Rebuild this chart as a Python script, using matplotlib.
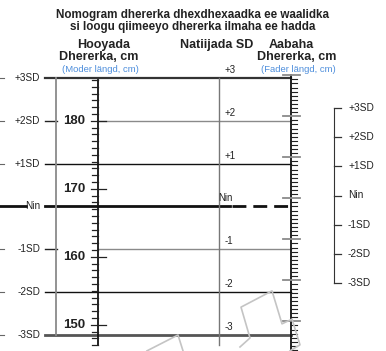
import matplotlib
matplotlib.use("Agg")
import matplotlib.pyplot as plt
import numpy as np

plt.rcParams["font.family"] = ["Liberation Sans", "DejaVu Sans"]

# SD levels shared by the three scales
sd_levels = [3, 2, 1, 0, -1, -2, -3]
sd_left_labels = ["+3SD", "+2SD", "+1SD", "Nin", "-1SD", "-2SD", "-3SD"]
sd_mid_labels = ["+3", "+2", "+1", "Nin", "-1", "-2", "-3"]

# mother height scale (cm)
mother_mean, mother_sd = 167.4, 6.3
mother_major = [150, 160, 170, 180]
mother_range = (147, 186)

# father height scale (cm)
father_mean, father_sd = 179.0, 5.22
father_major = [165, 170, 175, 180, 185, 190, 195]
father_range = (161.5, 195.0)

# light grey folded-ruler sketch at the bottom (x px, y in SD)
fold_a_x = [240, 250, 241, 272, 282, 292, 300, 290]
fold_a_y = [-3.28, -3.07, -2.35, -1.97, -2.74, -2.63, -3.23, -3.37]
fold_b_x = [147, 178, 183]
fold_b_y = [-3.37, -3.0, -3.37]

W, H = 386, 351
PX_SD = 42.83          # pixels per SD on the main chart
Y_TOP = 78             # pixel row of +3SD

fig = plt.figure(figsize=(W / 100, H / 100), dpi=100)
ax = fig.add_axes([0, 0, 1, 1])
ax.set_xlim(0, W)
ax.set_ylim(-3 - (H - Y_TOP - 6 * PX_SD) / PX_SD, 3 + Y_TOP / PX_SD)
ax.axis("off")


def fy(py):
    return 1 - py / H


def m2sd(cm):
    return (np.asarray(cm, dtype=float) - mother_mean) / mother_sd


def f2sd(cm):
    return (np.asarray(cm, dtype=float) - father_mean) / father_sd


X_LEFT, X_GREY, X_MOTHER, X_SD, X_FATHER = 45, 56, 98, 219, 291
px = 1 / PX_SD

# horizontal SD lines
line_style = {3: ("#333333", 1.6), 2: ("#8a8a8a", 1.0), 1: ("#111111", 1.0),
              0: ("#111111", 2.0), -1: ("#8a8a8a", 1.0), -2: ("#111111", 1.0),
              -3: ("#555555", 2.0)}
for lev, lab, mlab in zip(sd_levels, sd_left_labels, sd_mid_labels):
    col, lw = line_style[lev]
    if lev in (2, -1):
        ax.plot([X_LEFT, X_GREY + 1], [lev, lev], color="#222222", lw=1.0)
        ax.plot([X_MOTHER, X_FATHER], [lev, lev], color=col, lw=lw)
    elif lev == 0:
        ax.plot([X_LEFT, 230], [lev, lev], color=col, lw=lw)
        ax.plot([232, X_FATHER], [lev, lev], color=col, lw=lw,
                linestyle=(0, (5, 2.5)))
    else:
        ax.plot([X_LEFT, X_FATHER], [lev, lev], color=col, lw=lw)
    # stubs at the left edge
    if lev == 0:
        ax.plot([0, 26], [lev, lev], color="#111111", lw=2.0)
    else:
        ax.plot([0, 4], [lev, lev], color="#666666", lw=0.8)
    ax.text(40, lev, lab, ha="right", va="center", fontsize=7.2, color="#222222",
            zorder=5)
    xl = 218 if lev == 0 else 225
    ax.text(xl, lev + 8 * px, mlab, ha="left", va="center", fontsize=7,
            color="#222222")

# vertical lines
ax.plot([X_GREY, X_GREY], [3, -3], color="#8a8a8a", lw=1.3)
ax.plot([X_SD, X_SD], [3, -3 - 10 * px], color="#777777", lw=1.0)

# mother scale
ax.plot([X_MOTHER, X_MOTHER], [m2sd(mother_range[1]), m2sd(mother_range[0])],
        color="#111111", lw=1.3)
for cm in range(mother_range[0], mother_range[1] + 1):
    y = m2sd(cm)
    if cm in mother_major:
        ax.plot([91, 106], [y, y], color="#222222", lw=0.9)
        ax.text(85, y, str(cm), ha="right", va="center", fontsize=9.5,
                fontweight="bold", color="#222222")
    else:
        ax.plot([92, X_MOTHER], [y, y], color="#222222", lw=0.9)

# father scale
ax.plot([X_FATHER, X_FATHER], [f2sd(father_range[1]), f2sd(father_range[0])],
        color="#111111", lw=1.3)
for cm in np.arange(father_range[0], father_range[1] + 0.01, 0.5):
    y = f2sd(cm)
    if cm in father_major:
        ax.plot([283, 300], [y, y], color="#8a8a8a", lw=1.3)
    else:
        ax.plot([X_FATHER, 297], [y, y], color="#222222", lw=0.8)

# folded ruler sketch
ax.plot(fold_a_x, fold_a_y, color="#c4c4c4", lw=1.2)
ax.plot(fold_b_x, fold_b_y, color="#c4c4c4", lw=1.2)

# SD key on the right
LEG_PX = 29.17
leg = fig.add_axes([0, fy(296), 1, (296 - 95) / H])
leg.set_xlim(0, W)
leg.set_ylim(-3 - 13 / LEG_PX, 3 + 13 / LEG_PX)
leg.axis("off")
leg.plot([334, 334], [3, -3], color="#333333", lw=0.8)
for lev, lab in zip(sd_levels, sd_left_labels):
    leg.plot([334, 341], [lev, lev], color="#333333", lw=0.9)
    leg.text(348, lev, lab, ha="left", va="center", fontsize=7.3,
             color="#222222")

# header
fig.text(0.5, fy(15), "Nomogram dhererka dhexdhexaadka ee waalidka",
         ha="center", va="center", fontsize=8.4, fontweight="bold", color="#222222")
fig.text(0.5, fy(27), "si loogu qiimeeyo dhererka ilmaha ee hadda",
         ha="center", va="center", fontsize=8.4, fontweight="bold", color="#222222")
fig.text(104 / W, fy(45), "Hooyada", ha="center", va="center", fontsize=9,
         fontweight="bold", color="#222222")
fig.text(99 / W, fy(57), "Dhererka, cm", ha="center", va="center", fontsize=9,
         fontweight="bold", color="#222222")
fig.text(100 / W, fy(69), "(Moder längd, cm)", ha="center", va="center",
         fontsize=6.8, color="#4f8fdc")
fig.text(217 / W, fy(45), "Natiijada SD", ha="center", va="center", fontsize=9,
         fontweight="bold", color="#222222")
fig.text(291 / W, fy(45), "Aabaha", ha="center", va="center", fontsize=9,
         fontweight="bold", color="#222222")
fig.text(297 / W, fy(57), "Dhererka, cm", ha="center", va="center", fontsize=9,
         fontweight="bold", color="#222222")
fig.text(298 / W, fy(69), "(Fader längd, cm)", ha="center", va="center",
         fontsize=6.8, color="#4f8fdc")

fig.savefig("out.png", dpi=100)
